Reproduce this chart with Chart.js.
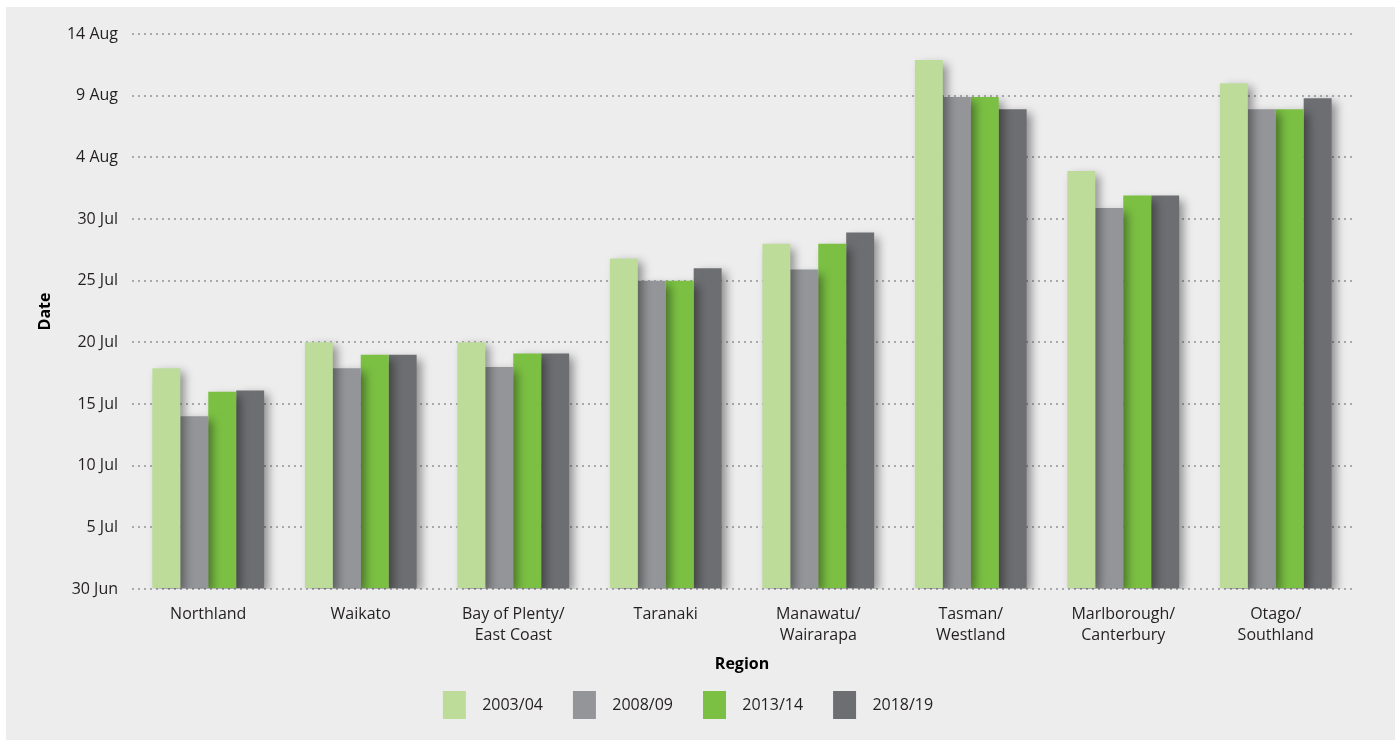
<!DOCTYPE html>
<html>
<head>
<meta charset="utf-8">
<script src="https://cdn.jsdelivr.net/npm/chart.js@4"></script>
<style>
  html, body { margin: 0; padding: 0; background: #ffffff; }
  #wrap { position: absolute; left: 6px; top: 7px; width: 1389px; height: 733px; background: #ededed; }
</style>
</head>
<body>
<div id="wrap"><canvas id="myChart"></canvas></div>
<script>
// regions along the bottom
const regions = [
  'Northland',
  'Waikato',
  ['Bay of Plenty/', 'East Coast'],
  'Taranaki',
  ['Manawatu/', 'Wairarapa'],
  ['Tasman/', 'Westland'],
  ['Marlborough/', 'Canterbury'],
  ['Otago/', 'Southland']
];

// days after 30 June
const s2003 = [17.9, 20.0, 20.0, 26.8, 28.0, 42.9, 33.9, 41.0];
const s2008 = [14.0, 17.9, 18.0, 25.0, 25.9, 39.9, 30.9, 38.9];
const s2013 = [16.0, 19.0, 19.1, 25.0, 28.0, 39.9, 31.9, 38.9];
const s2018 = [16.1, 19.0, 19.1, 26.0, 28.9, 38.9, 31.9, 39.8];

const yTickLabels = ['30 Jun', '5 Jul', '10 Jul', '15 Jul', '20 Jul', '25 Jul', '30 Jul', '4 Aug', '9 Aug', '14 Aug'];

const font = 'Open Sans';

// soft drop shadow behind the bars
const barShadow = {
  id: 'barShadow',
  beforeDatasetsDraw(chart) {
    const c = chart.ctx;
    c.save();
    c.shadowColor = 'rgba(0,0,0,0.4)';
    c.shadowBlur = 9;
    c.shadowOffsetX = 5;
    c.shadowOffsetY = 4;
  },
  afterDatasetsDraw(chart) {
    chart.ctx.restore();
  }
};

var ctx = document.getElementById('myChart').getContext('2d');
var myChart = new Chart(ctx, {
  type: 'bar',
  data: {
    labels: regions,
    datasets: [
      { label: '2003/04', data: s2003, backgroundColor: '#bddc9a' },
      { label: '2008/09', data: s2008, backgroundColor: '#939598' },
      { label: '2013/14', data: s2013, backgroundColor: '#7bc043' },
      { label: '2018/19', data: s2018, backgroundColor: '#6d6e71' }
    ]
  },
  plugins: [barShadow],
  options: {
    responsive: true,
    maintainAspectRatio: false,
    animation: false,
    layout: { padding: { left: 18, right: 43, top: 27, bottom: 11 } },
    datasets: {
      bar: { categoryPercentage: 0.733, barPercentage: 1.0, borderWidth: 0 }
    },
    plugins: {
      tooltip: { enabled: false },
      legend: {
        position: 'bottom',
        labels: {
          font: { family: font, size: 16 },
          color: '#231f20',
          boxWidth: 23,
          boxHeight: 28,
          padding: 30,
          // a little more room between swatch and text
          generateLabels(chart) {
            const items = Chart.defaults.plugins.legend.labels.generateLabels(chart);
            items.forEach(it => { it.text = '  ' + it.text; });
            return items;
          }
        }
      }
    },
    scales: {
      x: {
        afterFit(scale) { scale.height = 72; },
        grid: { display: false, drawTicks: false },
        border: { display: false },
        ticks: {
          font: { family: font, size: 16, lineHeight: 1.3 },
          color: '#231f20',
          padding: 15,
          maxRotation: 0,
          autoSkip: false
        },
        title: {
          display: true,
          text: 'Region',
          font: { family: font, size: 16, weight: 'bold' },
          color: '#000',
          padding: { top: 0, bottom: -12.6 }
        }
      },
      y: {
        min: 0,
        max: 45,
        afterFit(scale) { scale.width = 108; },
        grid: {
          drawTicks: false,
          color: '#a7a9ac',
          lineWidth: 2
        },
        border: { display: false, dash: [2, 4] },
        ticks: {
          stepSize: 5,
          padding: 14,
          font: { family: font, size: 16 },
          color: '#231f20',
          callback: function(value) { return yTickLabels[value / 5]; }
        },
        title: {
          display: true,
          text: 'Date',
          font: { family: font, size: 16, weight: 'bold' },
          color: '#000',
          padding: { top: 11.4, bottom: 0 }
        }
      }
    }
  }
});
</script>
</body>
</html>
